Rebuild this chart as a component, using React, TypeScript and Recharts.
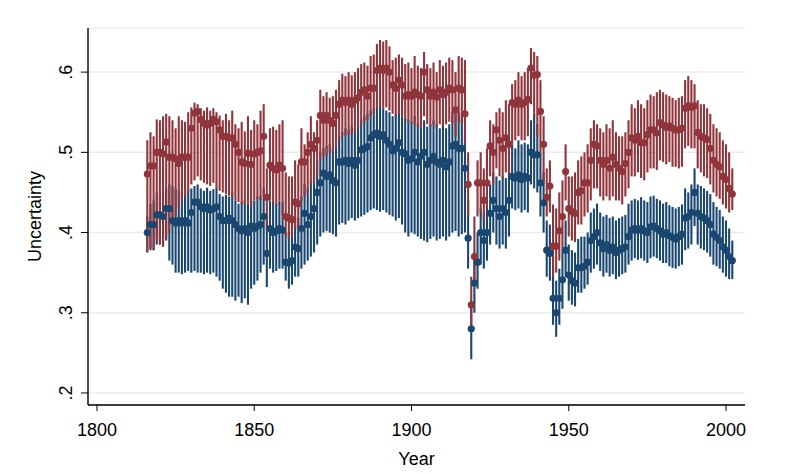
import { ScatterChart, Scatter, ErrorBar, XAxis, YAxis, CartesianGrid } from 'recharts';

const FONT = '"Liberation Sans", Arial, Helvetica, sans-serif';
const MAROON = '#90353b';
const NAVY = '#1a476f';

// one value per year, 1816..2002
const firstYear = 1816;

const redMean = [
  .473, .483, .483, .500,
  .500, .498, .513, .494, .494, .492, .486, .494, .494, .494,
  .530, .549, .551, .541, .536, .534, .536, .541, .538, .528,
  .520, .520, .518, .518, .510, .500, .488, .486, .499, .485,
  .498, .500, .502, .520, .444, .484, .480, .478, .484, .480,
  .420, .418, .416, .438, .436, .488, .488, .500, .510, .505,
  .515, .546, .540, .546, .540, .536, .546, .560, .565, .562,
  .565, .560, .565, .568, .575, .578, .570, .580, .580, .602,
  .605, .602, .605, .600, .584, .580, .590, .584, .570, .572,
  .570, .575, .572, .570, .600, .578, .570, .575, .569, .578,
  .572, .575, .580, .578, .553, .580, .578, .548, .460, .310,
  .370, .462, .462, .440, .462, .508, .500, .528, .515, .505,
  .518, .510, .562, .560, .565, .560, .562, .566, .605, .596,
  .597, .551, .510, .444, .458, .383, .383, .402, .420, .476,
  .430, .426, .424, .450, .452, .462, .462, .490, .510, .508,
  .490, .485, .490, .480, .494, .485, .480, .476, .486, .500,
  .518, .515, .520, .512, .512, .522, .528, .528, .524, .537,
  .534, .531, .533, .530, .528, .528, .530, .555, .558, .556,
  .558, .525, .520, .518, .516, .505, .490, .485, .482, .470,
  .466, .455, .448,
];

const redLow = [
  .376, .380, .378, .390,
  .385, .382, .393, .400, .410, .420, .430, .440, .445, .450,
  .460, .465, .470, .465, .462, .460, .458, .462, .455, .452,
  .450, .448, .446, .444, .440, .438, .436, .434, .436, .432,
  .440, .442, .440, .445, .405, .440, .436, .434, .440, .420,
  .395, .392, .395, .405, .405, .440, .445, .450, .460, .460,
  .470, .490, .495, .495, .500, .500, .505, .515, .520, .520,
  .522, .522, .525, .530, .535, .538, .540, .545, .548, .555,
  .556, .555, .556, .552, .548, .545, .548, .545, .540, .538,
  .535, .535, .532, .530, .545, .535, .532, .535, .530, .535,
  .532, .535, .538, .536, .520, .538, .536, .510, .420, .285,
  .340, .420, .425, .415, .430, .470, .460, .480, .470, .468,
  .475, .470, .510, .515, .520, .515, .515, .520, .560, .545,
  .520, .500, .460, .420, .425, .345, .350, .365, .380, .440,
  .395, .390, .388, .410, .410, .420, .425, .440, .455, .455,
  .445, .440, .445, .440, .445, .440, .440, .435, .445, .455,
  .470, .470, .475, .468, .465, .475, .480, .480, .478, .490,
  .488, .485, .488, .482, .482, .480, .482, .505, .508, .505,
  .505, .480, .475, .470, .468, .460, .450, .445, .442, .435,
  .430, .425, .428,
];

const redHigh = [
  .515, .525, .520, .541,
  .540, .545, .548, .545, .540, .530, .545, .540, .538, .550,
  .556, .562, .560, .555, .552, .556, .552, .555, .550, .546,
  .540, .548, .540, .552, .535, .530, .538, .526, .545, .528,
  .540, .535, .552, .560, .480, .530, .532, .528, .535, .540,
  .475, .470, .470, .490, .485, .530, .510, .525, .545, .525,
  .540, .578, .570, .575, .568, .570, .578, .590, .598, .595,
  .600, .596, .600, .605, .610, .612, .608, .620, .622, .635,
  .640, .638, .640, .632, .615, .618, .622, .618, .610, .612,
  .605, .620, .608, .605, .625, .610, .605, .612, .600, .615,
  .608, .612, .618, .615, .600, .620, .618, .615, .500, .345,
  .420, .490, .500, .480, .505, .540, .535, .550, .555, .550,
  .565, .560, .585, .590, .600, .595, .600, .605, .630, .625,
  .620, .590, .545, .480, .490, .435, .430, .450, .465, .510,
  .470, .470, .475, .490, .495, .500, .510, .530, .540, .535,
  .530, .525, .535, .530, .540, .525, .520, .520, .525, .540,
  .560, .555, .565, .560, .555, .565, .572, .570, .575, .578,
  .575, .572, .570, .568, .565, .568, .570, .590, .595, .590,
  .585, .565, .560, .560, .555, .548, .535, .530, .525, .515,
  .510, .500, .480,
];

const blueMean = [
  .400, .410, .410, .422,
  .422, .420, .430, .430, .415, .412, .415, .412, .415, .412,
  .425, .438, .438, .432, .430, .432, .428, .430, .432, .420,
  .415, .415, .418, .415, .410, .405, .402, .405, .400, .408,
  .405, .408, .410, .420, .374, .405, .400, .402, .405, .403,
  .363, .362, .365, .382, .380, .405, .424, .410, .420, .430,
  .450, .462, .474, .470, .472, .465, .462, .488, .488, .490,
  .486, .490, .484, .490, .503, .505, .507, .518, .522, .524,
  .520, .522, .515, .510, .502, .505, .512, .500, .498, .490,
  .492, .500, .488, .495, .500, .485, .490, .495, .488, .485,
  .490, .482, .488, .508, .510, .505, .505, .480, .393, .280,
  .337, .363, .400, .390, .400, .424, .440, .430, .420, .430,
  .425, .440, .470, .468, .472, .466, .470, .468, .500, .497,
  .497, .462, .437, .378, .374, .318, .300, .318, .341, .378,
  .347, .340, .337, .356, .356, .358, .363, .390, .395, .400,
  .387, .380, .385, .378, .382, .375, .378, .380, .382, .395,
  .403, .405, .403, .405, .402, .400, .407, .408, .405, .402,
  .398, .400, .396, .394, .392, .395, .398, .418, .420, .425,
  .450, .424, .420, .418, .415, .410, .398, .394, .390, .382,
  .378, .370, .365,
];

const blueLow = [
  .375, .378, .378, .385,
  .385, .385, .390, .365, .360, .350, .350, .348, .350, .352,
  .350, .352, .350, .350, .348, .350, .348, .350, .345, .340,
  .330, .325, .320, .320, .315, .320, .312, .318, .310, .330,
  .335, .340, .350, .360, .332, .355, .350, .352, .355, .355,
  .340, .330, .335, .345, .345, .355, .360, .365, .370, .375,
  .385, .395, .400, .402, .400, .398, .395, .410, .412, .410,
  .415, .418, .415, .418, .420, .422, .425, .428, .430, .428,
  .426, .428, .425, .422, .420, .415, .418, .410, .400, .395,
  .400, .398, .395, .392, .390, .388, .392, .395, .390, .392,
  .395, .390, .395, .400, .402, .395, .398, .400, .355, .242,
  .300, .330, .360, .355, .365, .385, .400, .385, .380, .385,
  .380, .395, .430, .428, .430, .425, .428, .425, .460, .455,
  .450, .420, .400, .345, .340, .285, .270, .285, .305, .345,
  .315, .310, .308, .325, .325, .330, .335, .350, .355, .360,
  .352, .345, .350, .345, .348, .342, .345, .348, .350, .360,
  .365, .368, .366, .368, .365, .362, .368, .370, .368, .365,
  .362, .362, .358, .356, .355, .358, .360, .378, .380, .385,
  .408, .385, .380, .378, .375, .370, .360, .358, .355, .350,
  .345, .342, .342,
];

const blueHigh = [
  .420, .435, .440, .450,
  .450, .452, .455, .460, .458, .455, .452, .450, .455, .452,
  .455, .458, .460, .455, .452, .456, .452, .454, .456, .448,
  .445, .447, .445, .450, .440, .436, .438, .440, .436, .442,
  .440, .445, .446, .455, .420, .440, .438, .436, .440, .438,
  .400, .400, .402, .420, .418, .445, .460, .455, .465, .478,
  .490, .500, .505, .508, .510, .505, .512, .520, .525, .530,
  .528, .532, .530, .535, .540, .545, .548, .552, .555, .556,
  .558, .555, .552, .550, .545, .548, .550, .545, .542, .540,
  .538, .545, .535, .540, .540, .532, .535, .540, .535, .530,
  .535, .530, .535, .550, .552, .550, .548, .520, .440, .315,
  .375, .400, .430, .425, .435, .460, .475, .470, .465, .470,
  .468, .480, .510, .505, .515, .510, .512, .510, .540, .548,
  .535, .500, .475, .415, .410, .355, .340, .355, .380, .415,
  .385, .378, .375, .392, .395, .395, .400, .425, .430, .436,
  .425, .420, .422, .418, .420, .415, .418, .420, .422, .436,
  .440, .442, .440, .444, .440, .438, .445, .446, .442, .440,
  .436, .438, .434, .432, .430, .432, .435, .455, .450, .460,
  .480, .460, .458, .455, .452, .448, .438, .432, .428, .420,
  .415, .405, .390,
];

const xTicks = [1800, 1850, 1900, 1950, 2000];
const yTicks = [0.2, 0.3, 0.4, 0.5, 0.6];

const rows = redMean.map((rm, i) => ({
  year: firstYear + i,
  red: rm,
  redErr: [Math.max(0, rm - redLow[i]), Math.max(0, redHigh[i] - rm)],
  blue: blueMean[i],
  blueErr: [Math.max(0, blueMean[i] - blueLow[i]), Math.max(0, blueHigh[i] - blueMean[i])],
}));

const noMark = () => <g />;
const dot = (color: string) => (p: any) => <circle cx={p.cx} cy={p.cy} r={3.6} fill={color} />;

function YTick(props: any) {
  const { y, payload } = props;
  const label = String(payload.value).replace(/^0/, '');
  return (
    <text x={72} y={y} transform={`rotate(-90 72 ${y})`} textAnchor="middle"
      fontSize={18} fontFamily={FONT} fill="#000">{label}</text>
  );
}

function XTitle(props: any) {
  const vb = props.viewBox ?? { x: 88, y: 405, width: 657 };
  return (
    <text x={vb.x + vb.width / 2} y={465} textAnchor="middle" fontSize={18} fontFamily={FONT} fill="#000">
      Year
    </text>
  );
}

function YTitle(props: any) {
  const vb = props.viewBox ?? { y: 28, height: 377 };
  const cy = vb.y + vb.height / 2;
  return (
    <text x={41} y={cy} transform={`rotate(-90 41 ${cy})`} textAnchor="middle" fontSize={18} fontFamily={FONT} fill="#000">
      Uncertainty
    </text>
  );
}

export default function App() {
  return (
    <div style={{ position: 'absolute', left: 0, top: 0, width: 800, height: 474, background: '#fff' }}>
      <ScatterChart width={800} height={474} margin={{ top: 28, right: 55, bottom: 0, left: 0 }}>
        <CartesianGrid horizontal vertical={false} stroke="#ebebeb" strokeWidth={1.5} />
        <XAxis dataKey="year" type="number" domain={[1797.14, 2006.04]} ticks={xTicks} allowDataOverflow
          height={69} interval={0} tickSize={6} tickMargin={12}
          tick={{ fontSize: 18, fill: '#000', fontFamily: FONT }}
          axisLine={{ stroke: '#000', strokeWidth: 1.4 }} tickLine={{ stroke: '#000' }}
          label={<XTitle />} />
        <YAxis type="number" domain={[0.185, 0.655]} ticks={yTicks} allowDataOverflow
          width={88} interval={0} tickSize={7} tick={<YTick />}
          axisLine={{ stroke: '#000', strokeWidth: 1.4 }} tickLine={{ stroke: '#000' }}
          label={<YTitle />} />
        <Scatter data={rows} dataKey="blue" shape={noMark} isAnimationActive={false}>
          <ErrorBar dataKey="blueErr" direction="y" width={0} stroke={NAVY} strokeWidth={2.1} isAnimationActive={false} />
        </Scatter>
        <Scatter data={rows} dataKey="red" shape={noMark} isAnimationActive={false}>
          <ErrorBar dataKey="redErr" direction="y" width={0} stroke={MAROON} strokeWidth={2.1} isAnimationActive={false} />
        </Scatter>
        <Scatter data={rows} dataKey="blue" shape={dot(NAVY)} isAnimationActive={false} />
        <Scatter data={rows} dataKey="red" shape={dot(MAROON)} isAnimationActive={false} />
      </ScatterChart>
    </div>
  );
}
